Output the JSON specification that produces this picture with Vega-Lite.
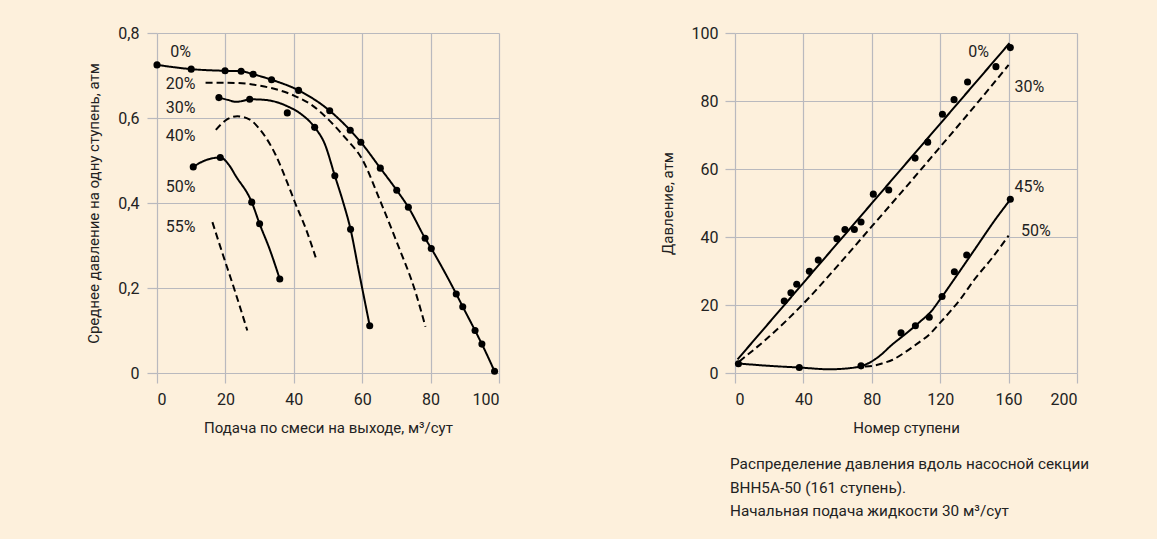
{
  "$schema": "https://vega.github.io/schema/vega-lite/v6.json",
  "background": "#FDF0DC",
  "padding": {"left": 86, "top": 25, "right": 67, "bottom": 19},
  "spacing": 160,
  "config": {
    "font": "Roboto",
    "view": {"stroke": null},
    "axis": {
      "grid": true, "gridColor": "#B9B9BE", "gridWidth": 1.2,
      "domain": false, "tickColor": "#B9B9BE", "tickSize": 10, "tickWidth": 1.2,
      "labelFont": "Roboto", "labelFontSize": 16, "labelColor": "#222222",
      "titleFont": "Roboto", "titleFontSize": 15, "titleFontWeight": "normal", "titleColor": "#222222"
    },
    "title": {"font": "Roboto", "fontSize": 15, "fontWeight": "normal", "color": "#222222"}
  },
  "datasets": {
    "leftLines": [
      {"c":"0%","s":"solid","x":0,"y":0.725},{"c":"0%","s":"solid","x":10,"y":0.715},{"c":"0%","s":"solid","x":19.9,"y":0.711},{"c":"0%","s":"solid","x":24.6,"y":0.71},{"c":"0%","s":"solid","x":28.1,"y":0.703},{"c":"0%","s":"solid","x":33.5,"y":0.69},{"c":"0%","s":"solid","x":41.4,"y":0.665},{"c":"0%","s":"solid","x":50.5,"y":0.617},{"c":"0%","s":"solid","x":56.5,"y":0.571},{"c":"0%","s":"solid","x":59.6,"y":0.543},{"c":"0%","s":"solid","x":65.3,"y":0.482},{"c":"0%","s":"solid","x":70.1,"y":0.43},{"c":"0%","s":"solid","x":73.5,"y":0.39},{"c":"0%","s":"solid","x":78.4,"y":0.317},{"c":"0%","s":"solid","x":80.2,"y":0.293},{"c":"0%","s":"solid","x":87.5,"y":0.186},{"c":"0%","s":"solid","x":89.4,"y":0.156},{"c":"0%","s":"solid","x":93.0,"y":0.1},{"c":"0%","s":"solid","x":95.0,"y":0.068},{"c":"0%","s":"solid","x":98.7,"y":0.004},
      {"c":"20%","s":"dashed","x":14.2,"y":0.683},{"c":"20%","s":"dashed","x":20,"y":0.683},{"c":"20%","s":"dashed","x":26,"y":0.681},{"c":"20%","s":"dashed","x":30,"y":0.676},{"c":"20%","s":"dashed","x":33.7,"y":0.67},{"c":"20%","s":"dashed","x":40,"y":0.653},{"c":"20%","s":"dashed","x":45,"y":0.632},{"c":"20%","s":"dashed","x":50.3,"y":0.595},{"c":"20%","s":"dashed","x":55.2,"y":0.552},{"c":"20%","s":"dashed","x":60,"y":0.503},{"c":"20%","s":"dashed","x":65,"y":0.41},{"c":"20%","s":"dashed","x":70,"y":0.31},{"c":"20%","s":"dashed","x":75.6,"y":0.19},{"c":"20%","s":"dashed","x":78.5,"y":0.109},
      {"c":"30%","s":"solid","x":18.1,"y":0.648},{"c":"30%","s":"solid","x":21,"y":0.642},{"c":"30%","s":"solid","x":23,"y":0.638},{"c":"30%","s":"solid","x":25,"y":0.64},{"c":"30%","s":"solid","x":27.1,"y":0.644},{"c":"30%","s":"solid","x":31,"y":0.643},{"c":"30%","s":"solid","x":34.7,"y":0.638},{"c":"30%","s":"solid","x":38,"y":0.628},{"c":"30%","s":"solid","x":42,"y":0.61},{"c":"30%","s":"solid","x":46.1,"y":0.578},{"c":"30%","s":"solid","x":49,"y":0.54},{"c":"30%","s":"solid","x":52,"y":0.464},{"c":"30%","s":"solid","x":54.5,"y":0.4},{"c":"30%","s":"solid","x":56.6,"y":0.338},{"c":"30%","s":"solid","x":59,"y":0.24},{"c":"30%","s":"solid","x":62.2,"y":0.111},
      {"c":"40%","s":"dashed","x":17.2,"y":0.572},{"c":"40%","s":"dashed","x":20,"y":0.594},{"c":"40%","s":"dashed","x":23.5,"y":0.604},{"c":"40%","s":"dashed","x":27,"y":0.597},{"c":"40%","s":"dashed","x":30,"y":0.574},{"c":"40%","s":"dashed","x":34.7,"y":0.513},{"c":"40%","s":"dashed","x":38.1,"y":0.448},{"c":"40%","s":"dashed","x":40.4,"y":0.4},{"c":"40%","s":"dashed","x":43.5,"y":0.34},{"c":"40%","s":"dashed","x":46.4,"y":0.272},
      {"c":"50%","s":"solid","x":10.6,"y":0.485},{"c":"50%","s":"solid","x":14,"y":0.5},{"c":"50%","s":"solid","x":18.5,"y":0.507},{"c":"50%","s":"solid","x":21,"y":0.49},{"c":"50%","s":"solid","x":23,"y":0.464},{"c":"50%","s":"solid","x":27.7,"y":0.402},{"c":"50%","s":"solid","x":30,"y":0.351},{"c":"50%","s":"solid","x":33,"y":0.29},{"c":"50%","s":"solid","x":35.9,"y":0.221},
      {"c":"55%","s":"dashed","x":16.2,"y":0.355},{"c":"55%","s":"dashed","x":19,"y":0.285},{"c":"55%","s":"dashed","x":22.5,"y":0.2},{"c":"55%","s":"dashed","x":26.4,"y":0.1}
    ],
    "leftPts": [
      {"x":0,"y":0.725},{"x":10,"y":0.715},{"x":19.9,"y":0.711},{"x":24.6,"y":0.71},{"x":28.1,"y":0.703},{"x":33.5,"y":0.69},{"x":41.4,"y":0.665},{"x":50.5,"y":0.617},{"x":56.5,"y":0.571},{"x":59.6,"y":0.543},{"x":65.3,"y":0.482},{"x":70.1,"y":0.43},{"x":73.5,"y":0.39},{"x":78.4,"y":0.317},{"x":80.2,"y":0.293},{"x":87.5,"y":0.186},{"x":89.4,"y":0.156},{"x":93.0,"y":0.1},{"x":95.0,"y":0.068},{"x":98.7,"y":0.004},
      {"x":18.1,"y":0.648},{"x":27.1,"y":0.644},{"x":38.1,"y":0.612},{"x":46.1,"y":0.578},{"x":52,"y":0.464},{"x":56.6,"y":0.338},{"x":62.2,"y":0.111},
      {"x":10.6,"y":0.485},{"x":18.5,"y":0.507},{"x":27.7,"y":0.402},{"x":30,"y":0.351},{"x":35.9,"y":0.221}
    ],
    "leftLabels": [
      {"t":"0%","x":6.9,"y":0.756},{"t":"20%","x":6.9,"y":0.68},{"t":"30%","x":6.9,"y":0.623},{"t":"40%","x":6.9,"y":0.558},{"t":"50%","x":6.9,"y":0.437},{"t":"55%","x":6.9,"y":0.343}
    ],
    "rightLines": [
      {"c":"0%","s":"solid","x":1.5,"y":4},{"c":"0%","s":"solid","x":160.5,"y":97},
      {"c":"30%","s":"dashed","x":2.5,"y":3.4},{"c":"30%","s":"dashed","x":20,"y":10.7},{"c":"30%","s":"dashed","x":39.6,"y":20.2},{"c":"30%","s":"dashed","x":60,"y":31.5},{"c":"30%","s":"dashed","x":80.5,"y":43.4},{"c":"30%","s":"dashed","x":100,"y":54.7},{"c":"30%","s":"dashed","x":120,"y":66.5},{"c":"30%","s":"dashed","x":141,"y":79},{"c":"30%","s":"dashed","x":160,"y":90.6},
      {"c":"45%","s":"solid","x":2,"y":2.8},{"c":"45%","s":"solid","x":20,"y":2.1},{"c":"45%","s":"solid","x":38,"y":1.6},{"c":"45%","s":"solid","x":55,"y":1.1},{"c":"45%","s":"solid","x":70,"y":1.6},{"c":"45%","s":"solid","x":76,"y":2.4},{"c":"45%","s":"solid","x":84,"y":4.8},{"c":"45%","s":"solid","x":92,"y":8.4},{"c":"45%","s":"solid","x":100,"y":11.6},{"c":"45%","s":"solid","x":108,"y":15},{"c":"45%","s":"solid","x":115,"y":18.3},{"c":"45%","s":"solid","x":120,"y":21.7},{"c":"45%","s":"solid","x":130,"y":28.9},{"c":"45%","s":"solid","x":140,"y":36.2},{"c":"45%","s":"solid","x":152.6,"y":45.4},{"c":"45%","s":"solid","x":161,"y":51},
      {"c":"50%","s":"dashed","x":76,"y":1.9},{"c":"50%","s":"dashed","x":80.5,"y":2.1},{"c":"50%","s":"dashed","x":86,"y":2.8},{"c":"50%","s":"dashed","x":92.2,"y":3.9},{"c":"50%","s":"dashed","x":100,"y":6.3},{"c":"50%","s":"dashed","x":107,"y":8.8},{"c":"50%","s":"dashed","x":113.6,"y":11.3},{"c":"50%","s":"dashed","x":120,"y":14.8},{"c":"50%","s":"dashed","x":126,"y":18.2},{"c":"50%","s":"dashed","x":131.5,"y":21.5},{"c":"50%","s":"dashed","x":140,"y":27.5},{"c":"50%","s":"dashed","x":150,"y":33.6},{"c":"50%","s":"dashed","x":160,"y":40.4}
    ],
    "rightPts": [
      {"x":2,"y":2.7},{"x":28.8,"y":21.2},{"x":32.7,"y":23.6},{"x":36.1,"y":26.1},{"x":43.5,"y":29.9},{"x":48.7,"y":33.2},{"x":59.6,"y":39.5},{"x":64.3,"y":42.2},{"x":69.8,"y":42.2},{"x":73.7,"y":44.4},{"x":80.9,"y":52.6},{"x":89.9,"y":53.8},{"x":105.3,"y":63.2},{"x":112.7,"y":67.9},{"x":121.3,"y":76.1},{"x":128.1,"y":80.4},{"x":136,"y":85.6},{"x":152.6,"y":90.1},{"x":161,"y":95.7},
      {"x":37.6,"y":1.6},{"x":73.7,"y":2.1},{"x":97.1,"y":11.8},{"x":105.5,"y":13.9},{"x":113.6,"y":16.4},{"x":121.1,"y":22.5},{"x":128.3,"y":29.8},{"x":135.5,"y":34.7},{"x":161,"y":51.1}
    ],
    "rightLabels": [
      {"t":"0%","x":142.5,"y":94.4},{"t":"30%","x":172.1,"y":84},{"t":"45%","x":172.1,"y":54.8},{"t":"50%","x":176,"y":41.9}
    ]
  },
  "hconcat": [
    {
      "width": 342, "height": 340,
      "layer": [
        {
          "data": {"name": "leftLines"},
          "mark": {"type": "line", "interpolate": "monotone", "color": "#000000", "strokeWidth": 2},
          "encoding": {
            "x": {"field": "x", "type": "quantitative", "scale": {"domain": [0, 100], "nice": false}, "axis": {"values": [0,20,40,60,80,100], "title": "Подача по смеси на выходе, м³/сут", "labelPadding": 8, "titlePadding": 13}},
            "y": {"field": "y", "type": "quantitative", "scale": {"domain": [0, 0.8], "nice": false}, "axis": {"values": [0,0.2,0.4,0.6,0.8], "labelExpr": "datum.value == 0 ? '0' : replace(format(datum.value, '.1f'), '.', ',')", "title": "Среднее давление на одну ступень, атм", "labelPadding": 8, "titlePadding": 16}},
            "detail": {"field": "c"},
            "strokeDash": {"field": "s", "type": "nominal", "scale": {"domain": ["solid", "dashed"], "range": [[1, 0], [7, 4]]}, "legend": null}
          }
        },
        {
          "data": {"name": "leftPts"},
          "mark": {"type": "circle", "color": "#000000", "size": 50, "opacity": 1},
          "encoding": {"x": {"field": "x", "type": "quantitative"}, "y": {"field": "y", "type": "quantitative"}}
        },
        {
          "data": {"name": "leftLabels"},
          "mark": {"type": "text", "fontSize": 16, "color": "#222222", "align": "center", "baseline": "middle"},
          "encoding": {"x": {"field": "x", "type": "quantitative"}, "y": {"field": "y", "type": "quantitative"}, "text": {"field": "t"}}
        }
      ]
    },
    {
      "width": 342, "height": 340,
      "title": {"text": ["Распределение давления вдоль насосной секции", "ВНН5А-50 (161 ступень).", "Начальная подача жидкости 30 м³/сут"], "orient": "bottom", "anchor": "start", "frame": "group", "dx": -5, "offset": 22, "lineHeight": 23.5, "fontSize": 15.3, "fontWeight": "normal"},
      "layer": [
        {
          "data": {"name": "rightLines"},
          "mark": {"type": "line", "interpolate": "monotone", "color": "#000000", "strokeWidth": 2},
          "encoding": {
            "x": {"field": "x", "type": "quantitative", "scale": {"domain": [0, 200], "nice": false}, "axis": {"values": [0,40,80,120,160,200], "title": "Номер ступени", "labelPadding": 8, "titlePadding": 13}},
            "y": {"field": "y", "type": "quantitative", "scale": {"domain": [0, 100], "nice": false}, "axis": {"values": [0,20,40,60,80,100], "title": "Давление, атм", "labelPadding": 7, "titlePadding": 15.5}},
            "detail": {"field": "c"},
            "strokeDash": {"field": "s", "type": "nominal", "scale": {"domain": ["solid", "dashed"], "range": [[1, 0], [7, 4]]}, "legend": null}
          }
        },
        {
          "data": {"name": "rightPts"},
          "mark": {"type": "circle", "color": "#000000", "size": 50, "opacity": 1},
          "encoding": {"x": {"field": "x", "type": "quantitative"}, "y": {"field": "y", "type": "quantitative"}}
        },
        {
          "data": {"name": "rightLabels"},
          "mark": {"type": "text", "fontSize": 16, "color": "#222222", "align": "center", "baseline": "middle"},
          "encoding": {"x": {"field": "x", "type": "quantitative"}, "y": {"field": "y", "type": "quantitative"}, "text": {"field": "t"}}
        }
      ]
    }
  ]
}
